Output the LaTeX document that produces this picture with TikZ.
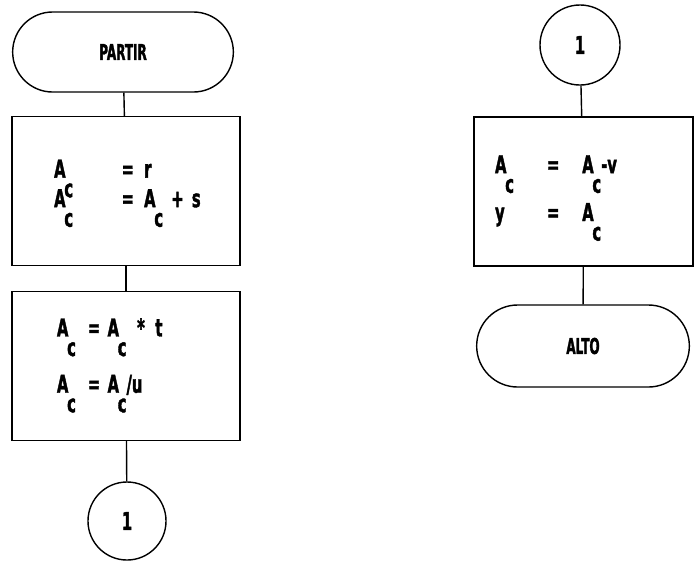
\documentclass[tikz,border=0pt]{standalone}
\usepackage{fontspec}
\setmainfont{DejaVu Sans}[FakeStretch=0.6, FakeBold=1.5]
\newfontfamily\narrowfont{DejaVu Sans}[FakeStretch=0.55, FakeBold=1.5]
\usetikzlibrary{positioning}
\usetikzlibrary{shapes.misc}

\newcommand{\Ac}{A\kern-0.05em\raisebox{-1.45ex}[0pt][0pt]{c}}

\begin{document}
\begin{tikzpicture}[
    x=0.025cm, y=-0.025cm,
    line width=1pt,
    terminal/.style={
        draw,
        rounded rectangle,
        minimum width=5.75cm,
        minimum height=2cm,
        font=\narrowfont\bfseries\fontsize{15.5}{18}\selectfont
    },
    process/.style={
        draw,
        rectangle,
        inner xsep=0pt,
        text width=5.7cm,
        minimum height=3.72cm,
        align=left,
        font=\bfseries\fontsize{17.5}{20}\selectfont
    },
    connector/.style={
        draw,
        circle,
        inner sep=0pt,
        minimum size=1.95cm,
        font=\bfseries\fontsize{17.5}{20}\selectfont
    },
    link/.style={draw}
]
\useasboundingbox (0,0) rectangle (694,568);

% left column
\node[terminal] (partir) at (123,52) {PARTIR};
\node[process] (calc1) at (126,191) {\raisebox{3pt}[\height][\depth]{%
    \begin{tabular}{@{\hspace*{30pt}}p{48pt}@{}p{16pt}@{}l@{}}
        \Ac & = & r\\[1pt]
        \Ac & = & \Ac\ + s
    \end{tabular}}};
\node[process] (calc2) at (126,366) {\raisebox{5pt}[\height][\depth]{%
    \begin{tabular}{@{\hspace*{32pt}}p{22pt}@{}p{14pt}@{}p{21pt}@{}p{13pt}@{}l@{}}
        \Ac & = & \Ac & * & t\\[20pt]
        \Ac & = & \multicolumn{3}{@{}l@{}}{\Ac/u}
    \end{tabular}}};
\node[connector] (goto1) at (127,521) {1};

% right column
\node[connector, minimum size=2cm] (from1) at (580,45) {1};
\node[process, text width=5.475cm] (calc3) at (583.5,191.5) {%
    \begin{tabular}{@{\hspace*{15pt}}p{37pt}@{}p{25pt}@{}l@{}}
        \Ac & = & \Ac-v\\[14pt]
        y & = & \Ac
    \end{tabular}};
\node[terminal, minimum width=5.55cm, minimum height=2.05cm] (alto) at (583,346) {ALTO};

\draw[link] (partir) -- (calc1);
\draw[link] (calc1) -- (calc2);
\draw[link] (calc2) -- (goto1);
\draw[link] (from1) -- (calc3);
\draw[link] (calc3) -- (alto);

\end{tikzpicture}
\end{document}
